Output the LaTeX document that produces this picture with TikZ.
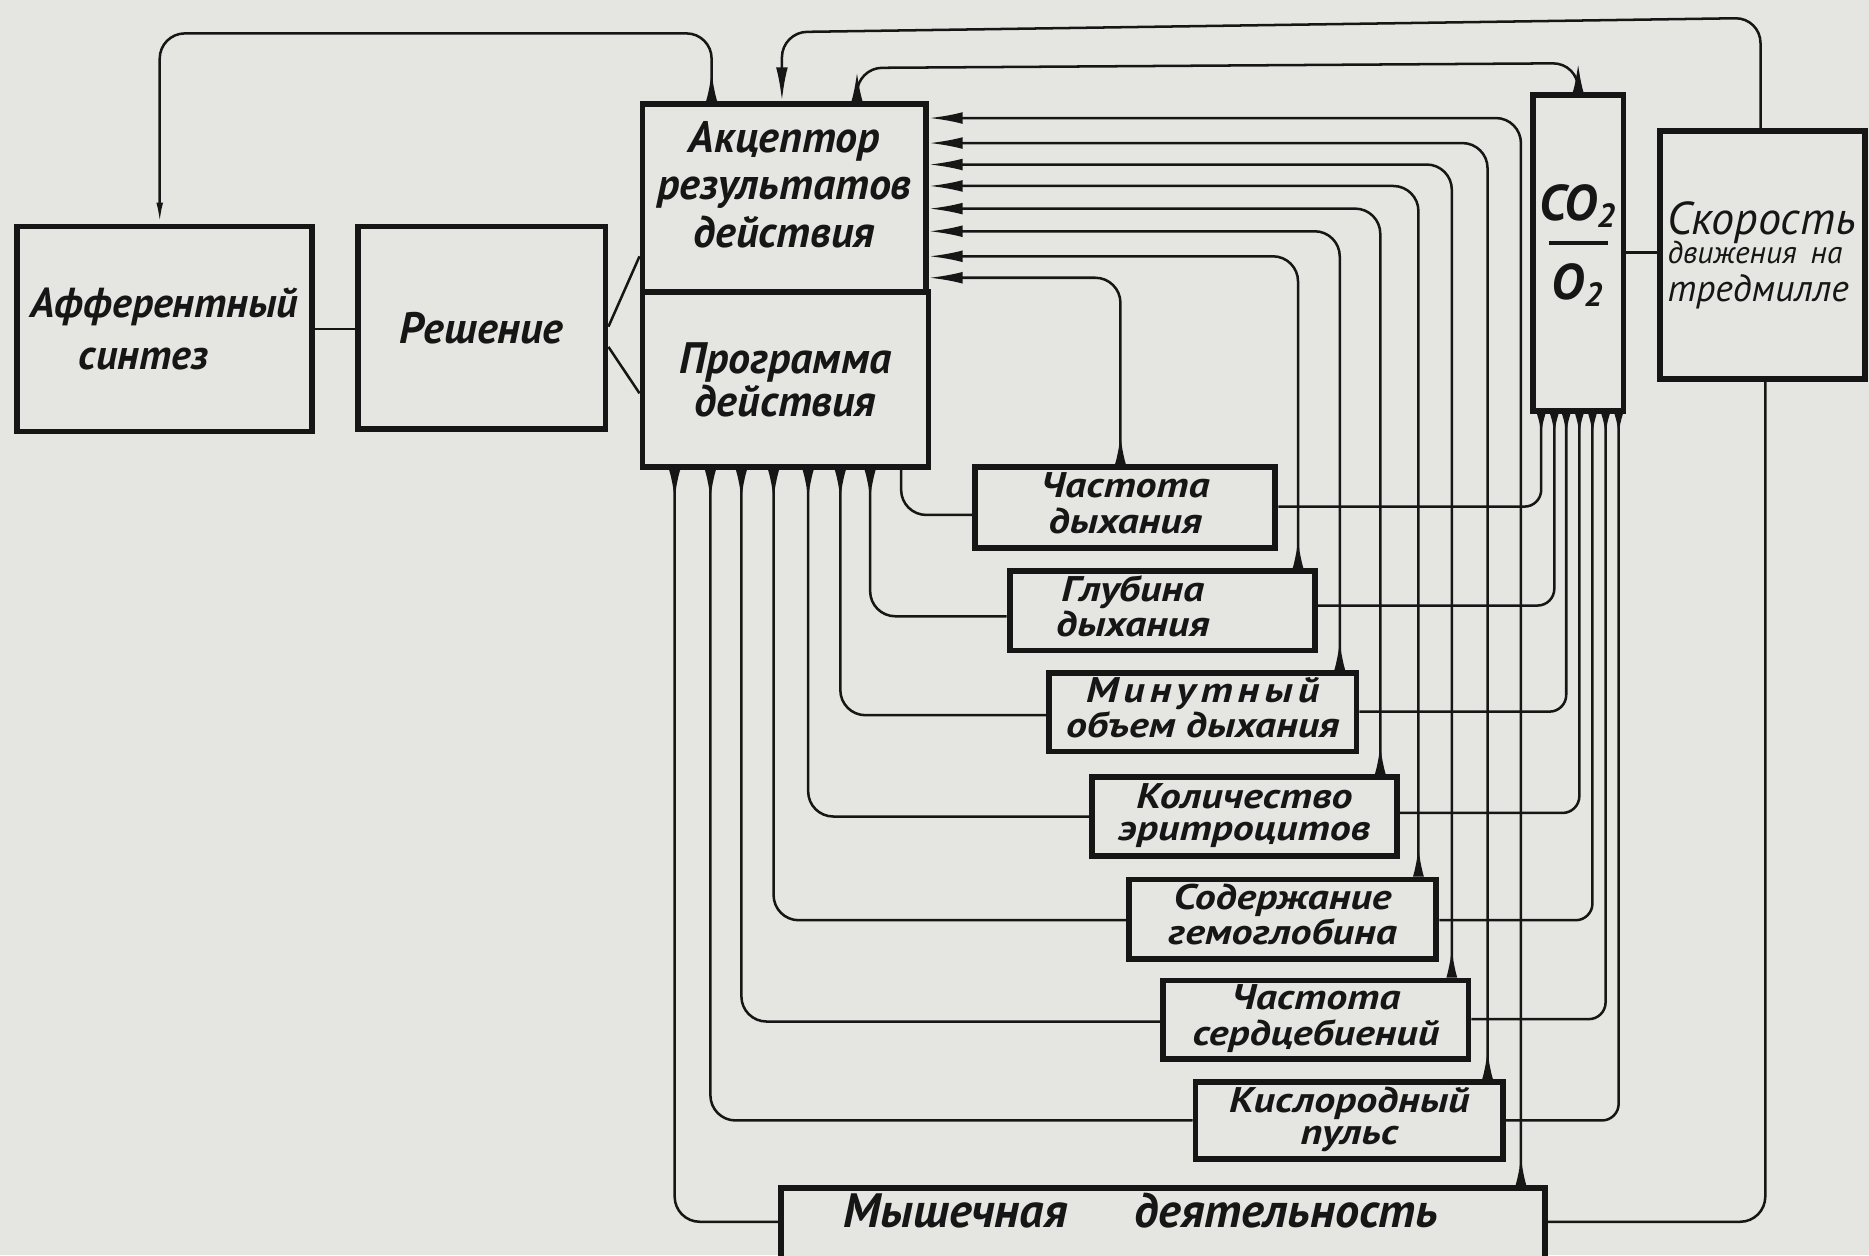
\documentclass[tikz,border=0pt]{standalone}
\usepackage{fontspec}
\usepackage{graphicx}
\setmainfont{PT Sans}
\usetikzlibrary{arrows.meta}
\definecolor{bg}{RGB}{229,229,226}
\definecolor{ink}{RGB}{22,22,22}
\newlength\pxu
\setlength\pxu{0.01cm}
\newcommand\twolines[2]{\scalebox{1}[0.85]{\begin{tabular}{@{}c@{}}#1\\#2\end{tabular}}}
\tikzset{
  box/.style={draw=ink, line width=1.4pt, inner sep=1pt, fill=bg, text=ink},
  sbox/.style={box, font=\bfseries\itshape\fontsize{10}{9}\selectfont},
  conn/.style={draw=ink, line width=0.6pt, rounded corners=6pt},
  sconn/.style={draw=ink, line width=0.6pt, rounded corners=4pt},
  wdg/.tip={Latex[reversed,length=7pt,width=2.6pt]},
  swdg/.tip={Latex[reversed,length=5pt,width=2pt]},
  atip/.tip={Latex[length=8pt,width=2.8pt]},
}
\begin{document}
\begin{tikzpicture}[x=0.01cm,y=-0.01cm]
\fill[bg] (0,0) rectangle (1568,1053);
\useasboundingbox (0,0) rectangle (1568,1053);
\begin{scope}
\clip (0,0) rectangle (1568,1053);
% boxes
\node[box, minimum width=248\pxu, minimum height=172\pxu, align=center,
  font=\bfseries\itshape\fontsize{10}{12.2}\selectfont] (aff) at (138,276)
  {Афферентный\\\hspace*{-1em}синтез};
\node[box, minimum width=208\pxu, minimum height=170\pxu,
  font=\bfseries\itshape\fontsize{10.5}{12}\selectfont] (resh) at (404,275) {Решение};
\node[box, minimum width=238\pxu, minimum height=158\pxu] (akc) at (658,166) {};
\node[align=center, text=ink, inner sep=0pt,
  font=\bfseries\itshape\fontsize{10.5}{11.4}\selectfont] (akct) at (658,155)
  {Акцептор\\результатов\\действия};
\node[box, minimum width=240\pxu, minimum height=147\pxu, align=center,
  font=\bfseries\itshape\fontsize{10.5}{10.2}\selectfont] (prog) at (659,318.5)
  {Программа\\действия};
\node[box, minimum width=76\pxu, minimum height=265\pxu] (co) at (1324,212.5) {};
\node[align=center, text=ink, inner sep=0pt,
  font=\bfseries\itshape\fontsize{12}{9.4}\selectfont] (cot) at (1324,206)
  {CO\textsubscript{2}\\\rule[3.5pt]{14pt}{0.9pt}\\O\textsubscript{2}};
\node[box, minimum width=172\pxu, minimum height=208\pxu, align=left, text width=1.6cm,
  font=\itshape\fontsize{10}{8}\selectfont] (sk) at (1479,214)
  {{\fontsize{11}{11}\selectfont Скорость}\\[-1pt]{\fontsize{7.5}{8}\selectfont движения на}\\[1pt]{\fontsize{9}{9}\selectfont тредмилле}};
\node[sbox, minimum width=252\pxu, minimum height=68\pxu] (chd) at (944,426) {\twolines{Частота}{дыхания}};
\node[sbox, minimum width=256\pxu, minimum height=65\pxu] (gd) at (975,512.5) {\twolines{\hspace*{-1.4em}Глубина}{\hspace*{-1.4em}дыхания}};
\node[sbox, minimum width=258\pxu, minimum height=65\pxu] (mod) at (1009,597.5) {\twolines{{\addfontfeatures{LetterSpace=12}Минутный}}{объем дыхания}};
\node[sbox, minimum width=256\pxu, minimum height=66\pxu] (ke) at (1044,685) {\twolines{Количество}{эритроцитов}};
\node[sbox, minimum width=258\pxu, minimum height=66\pxu] (sg) at (1076,771) {\twolines{Содержание}{гемоглобина}};
\node[sbox, minimum width=256\pxu, minimum height=65\pxu] (chs) at (1104,855.5) {\twolines{Частота}{сердцебиений}};
\node[sbox, minimum width=258\pxu, minimum height=64\pxu] (kp) at (1132,940) {\twolines{Кислородный}{пульс}};
\node[box, minimum width=641\pxu, minimum height=80\pxu, text height=8pt, text depth=12pt,
  font=\bfseries\itshape\fontsize{11.5}{12}\selectfont] (md) at (975.5,1037)
  {\hspace*{-0.9em}Мышечная\hspace{1.4em}деятельность};
% simple links
\draw[conn] (aff.east) -- (resh.west |- aff.east);
\draw[conn] (resh.east |- 0,274) -- (akc.west |- 0,215);
\draw[conn] (resh.east |- 0,291) -- (prog.west |- 0,330);
\draw[conn] (co.east |- 0,212) -- (sk.west |- 0,212);
% top links
\draw[conn, {Latex[length=5pt,width=1.6pt]}-{wdg}] (aff.north -| 134,0) -- (134,28) -- (597,28) -- (akc.north -| 597,0);
\draw[conn, -{atip}] (sk.north -| 1477,0) -- (1477,15) -- (656,27) -- (akc.north -| 656,0);
\draw[conn, {wdg}-{wdg}] (akc.north -| 719,0) -- (719,57) -- (1324,53) -- (co.north -| 1324,0);
% from acceptor right side down to box tops
\foreach \b/\x/\y in {md/1276/99, kp/1248/120, chs/1218/138, sg/1190/156, ke/1158/175, mod/1124/194, gd/1089/215, chd/940/233}
  \draw[conn, {wdg}-{atip}] (\b.north -| \x,0) |- (akc.east |- 0,\y);
% from box left sides up to the program bottom
\draw[conn] (chd.west |- 0,432) -| (prog.south -| 756,0);
\foreach \b/\x/\y in {gd/730/517, mod/705/600, ke/678/685, sg/649/772, chs/622/857, kp/596/940, md/566/1025}
  \draw[conn, -{wdg}] (\b.west |- 0,\y) -| (prog.south -| \x,0);
% from box right sides up to CO2/O2
\foreach \b/\x/\y in {chd/1293/425, gd/1304/508, mod/1314/597, ke/1325/682, sg/1336/772, chs/1347/855, kp/1358/940}
  \draw[sconn, -{swdg}] (\b.east |- 0,\y) -| (co.south -| \x,0);
% muscular activity to treadmill speed
\draw[conn] (md.east |- 0,1025) -| (sk.south -| 1481,0);
\end{scope}
\end{tikzpicture}
\end{document}
